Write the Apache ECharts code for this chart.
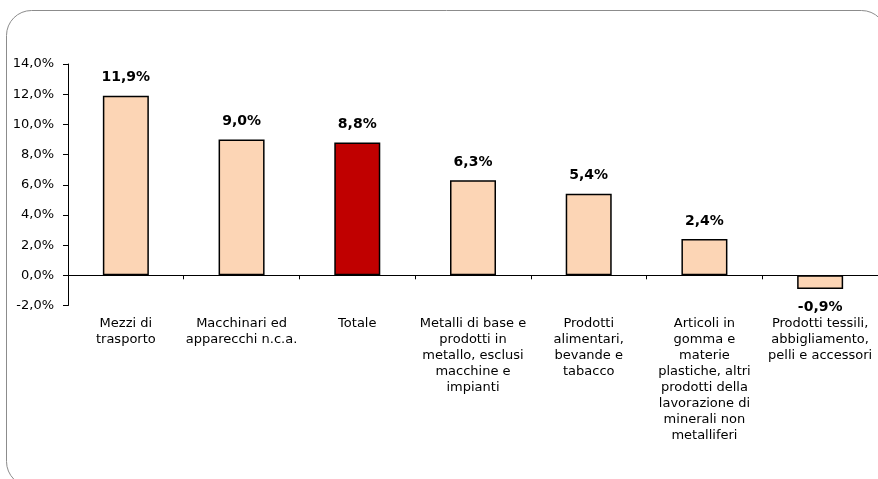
<!DOCTYPE html>
<html>
<head>
<meta charset="utf-8">
<script src="https://cdn.jsdelivr.net/npm/echarts@6/dist/echarts.min.js"></script>
<style>
  html, body { margin: 0; padding: 0; background: #fff; }
  #chart { width: 878px; height: 479px; }
</style>
</head>
<body>
<div id="chart"></div>
<script>
// Categorie di attività economica
const categories = [
  'Mezzi di\ntrasporto',
  'Macchinari ed\napparecchi n.c.a.',
  'Totale',
  'Metalli di base e\nprodotti in\nmetallo, esclusi\nmacchine e\nimpianti',
  'Prodotti\nalimentari,\nbevande e\ntabacco',
  'Articoli in\ngomma e\nmaterie\nplastiche, altri\nprodotti della\nlavorazione di\nminerali non\nmetalliferi',
  'Prodotti tessili,\nabbigliamento,\npelli e accessori'
];
// Variazione percentuale
const values = [11.9, 9.0, 8.8, 6.3, 5.4, 2.4, -0.9];
// Voce evidenziata
const highlight = 'Totale';
// Tacche dell'asse verticale
const yTicks = [-2, 0, 2, 4, 6, 8, 10, 12, 14];

const fmt = v => v.toFixed(1).replace('.', ',') + '%';
const font = 'DejaVu Sans, Verdana, sans-serif';

const chart = echarts.init(document.getElementById('chart'), null, { renderer: 'canvas' });

const data = values.map((v, i) => ({
  value: v,
  itemStyle: { color: categories[i] === highlight ? '#C00000' : '#FCD5B5' },
  label: { position: v < 0 ? 'bottom' : 'top' }
}));

chart.setOption({
  animation: false,
  backgroundColor: '#fff',
  graphic: [{
    type: 'rect',
    shape: { x: 6.5, y: 10.5, width: 880, height: 476, r: 25 },
    style: { fill: 'none', stroke: '#8c8c8c', lineWidth: 1 },
    silent: true
  }],
  grid: { left: 68, right: 0, top: 64, bottom: 173.5, containLabel: false },
  xAxis: {
    type: 'category',
    data: categories,
    axisLine: { onZero: true, lineStyle: { color: '#000', width: 1 } },
    axisTick: { show: true, alignWithLabel: false, length: 4, lineStyle: { color: '#000' } },
    axisLabel: {
      interval: 0,
      margin: 10,
      fontFamily: font,
      fontSize: 13,
      lineHeight: 16,
      color: '#000',
      align: 'center',
      verticalAlign: 'top'
    },
    splitLine: { show: false }
  },
  yAxis: {
    type: 'value',
    min: yTicks[0],
    max: yTicks[yTicks.length - 1],
    interval: 2,
    axisLine: { show: true, lineStyle: { color: '#000', width: 1 } },
    axisTick: { show: true, inside: false, length: 5, lineStyle: { color: '#000' } },
    axisLabel: {
      margin: 14,
      fontFamily: font,
      fontSize: 13,
      color: '#000',
      formatter: v => fmt(v)
    },
    splitLine: { show: false }
  },
  series: [{
    type: 'bar',
    data: data,
    barWidth: 46,
    itemStyle: { borderColor: '#000', borderWidth: 1.5 },
    label: {
      show: true,
      distance: 11,
      fontFamily: font,
      fontSize: 14,
      fontWeight: 'bold',
      color: '#000',
      formatter: p => fmt(p.value)
    }
  }]
});
</script>
</body>
</html>
